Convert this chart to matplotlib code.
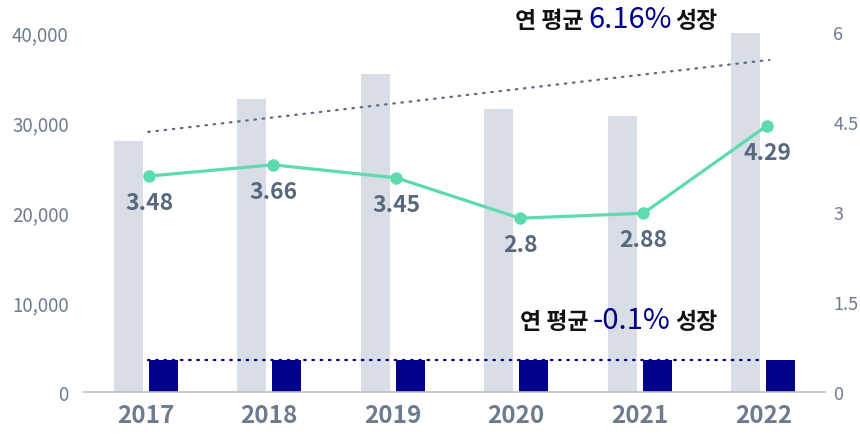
import numpy as np
from matplotlib import pyplot as plt

plt.rcParams['font.family'] = ['Noto Sans CJK KR', 'DejaVu Sans']

#%% Données
years = ['2017', '2018', '2019', '2020', '2021', '2022']
total = [27900, 32600, 35300, 31400, 30700, 39900]      # barres grises (axe gauche)
part = [3550, 3550, 3550, 3550, 3550, 3550]             # barres bleues (axe gauche)
ratio = [3.48, 3.66, 3.45, 2.8, 2.88, 4.29]             # courbe verte
trend_total = [28900, 36900]                             # tendance pointillée grise
trend_part = [3550, 3550]                                # tendance pointillée bleue

left_ticks = [0, 10000, 20000, 30000, 40000]
right_ticks = [0, 1.5, 3, 4.5, 6]
right_labels = ['0', '1.5', '3', '4.5', '6']

#%% Couleurs
c_grey = '#d9dee6'
c_navy = '#00008b'
c_green = '#5ddbae'
c_tick = '#6e7b8f'
c_label = '#5a687e'
c_trend = '#5f6b7e'

x = np.arange(len(years))
w = 0.235

fig = plt.figure(figsize=(8.6, 4.35), dpi=100)
ax = fig.add_axes([0.0977, 0.0966, 0.8616, 0.8275])
ax2 = ax.twinx()
ax3 = ax.twinx()

ax.bar(x - 0.14, total, width=w, color=c_grey, zorder=1)
ax.bar(x + 0.14, part, width=w, color=c_navy, zorder=2)
ax.plot([x[0] + 0.02, x[-1] + 0.05], trend_total, color=c_trend, lw=1.6,
        ls=(0, (0.7, 3.0)), dash_capstyle='round', zorder=3)
ax.plot([x[0] + 0.02, x[-1] + 0.0], trend_part, color=c_navy, lw=1.6,
        ls=(0, (0.7, 3.0)), dash_capstyle='round', zorder=3)

ax.set_xlim(-0.5, 5.5)
ax.set_ylim(0, 40000)
ax.set_yticks(left_ticks)
ax.set_yticklabels([f'{v:,}' for v in left_ticks])
ax.set_xticks(x)
ax.set_xticklabels(years)

ax2.set_ylim(0, 6)
ax2.set_yticks(right_ticks)
ax2.set_yticklabels(right_labels)

# courbe sur un axe caché
ax3.set_ylim(0, 5.8)
ax3.axis('off')
xl = x + 0.03
ax3.plot(xl, ratio, color=c_green, lw=2.3, marker='o', ms=8, zorder=5)
for xi, v in zip(xl, ratio):
    ax3.annotate(f'{v:g}', (xi, v), xytext=(0, -19), textcoords='offset points',
                 ha='center', va='center', fontsize=16.5, fontweight='bold',
                 color=c_label, zorder=6)

for a in (ax, ax2):
    for s in a.spines.values():
        s.set_visible(False)
ax.spines['bottom'].set_visible(True)
ax.spines['bottom'].set_color('#b8c0cc')
ax.spines['bottom'].set_linewidth(1.2)

ax.tick_params(axis='y', length=0, pad=11, labelsize=13.5, labelcolor=c_tick)
ax.tick_params(axis='x', length=0, pad=8, labelsize=17.5, labelcolor=c_tick)
ax2.tick_params(axis='y', length=0, pad=6, labelsize=13, labelcolor=c_tick)
for t in ax.get_xticklabels():
    t.set_fontweight('semibold')

#%% Annotations
fig.canvas.draw()
renderer = fig.canvas.get_renderer()


def rich_text(x0, y0, parts):
    xpos = x0
    for txt, size, color, weight in parts:
        t = fig.text(xpos, y0, txt, fontsize=size, color=color,
                     fontweight=weight, va='baseline', ha='left')
        bb = t.get_window_extent(renderer)
        xpos += bb.width / fig.bbox.width + 0.005


rich_text(515 / 860, 1 - 28 / 435, [
    ('연 평균', 16.5, '#111111', 'bold'),
    ('6.16%', 21, c_navy, 'normal'),
    ('성장', 16.5, '#111111', 'bold'),
])
rich_text(520 / 860, 1 - 329 / 435, [
    ('연 평균', 16.5, '#111111', 'bold'),
    ('-0.1%', 21, c_navy, 'normal'),
    ('성장', 16.5, '#111111', 'bold'),
])

fig.savefig('out.png', dpi=100)
